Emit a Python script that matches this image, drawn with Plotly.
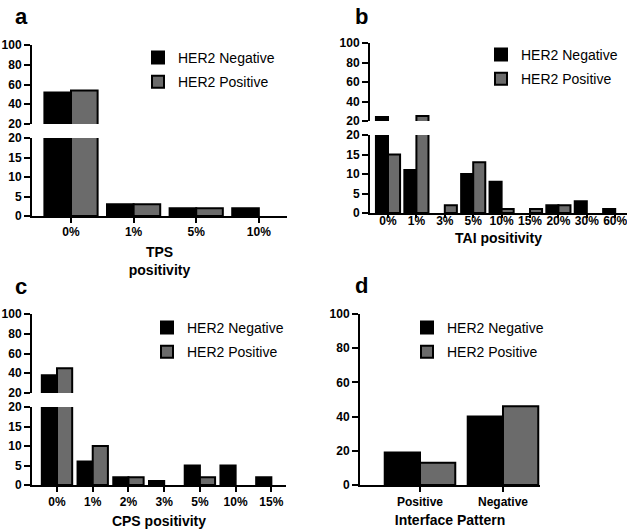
import plotly.graph_objects as go

W, H = 627, 529

# ---------------- data ----------------
tps_cats = ["0%", "1%", "5%", "10%"]
tps_neg = [52, 3, 2, 2]
tps_pos = [54, 3, 2, 0]

tai_cats = ["0%", "1%", "3%", "5%", "10%", "15%", "20%", "30%", "60%"]
tai_neg = [24, 11, 0, 10, 8, 0, 2, 3, 1]
tai_pos = [15, 25, 2, 13, 1, 1, 2, 0, 0]

cps_cats = ["0%", "1%", "2%", "3%", "5%", "10%", "15%"]
cps_neg = [38, 6, 2, 1, 5, 5, 2]
cps_pos = [45, 10, 2, 0, 2, 0, 0]

int_cats = ["Positive", "Negative"]
int_neg = [19, 40]
int_pos = [13, 46]

series_names = ["HER2 Negative", "HER2 Positive"]
lower_ticks = [0, 5, 10, 15, 20]
upper_ticks = [20, 40, 60, 80, 100]
full_ticks = [0, 20, 40, 60, 80, 100]

NEG_COLOR = "#000000"
POS_COLOR = "#6b6b6b"
FONT = "Liberation Sans, Arial, sans-serif"


def px_x(p):
    return p / W


def px_y(p):
    return 1 - p / H


fig = go.Figure()


def add_bars(cats, neg, pos, xa, ya, legend, show):
    for name, vals, col in ((series_names[0], neg, NEG_COLOR), (series_names[1], pos, POS_COLOR)):
        fig.add_trace(go.Bar(
            x=cats, y=[v if v != 0 else None for v in vals], name=name,
            marker=dict(color=col, line=dict(color="black", width=2)),
            xaxis=xa, yaxis=ya, legend=legend, showlegend=show,
            legendgroup=name + legend,
        ))


# panel a
add_bars(tps_cats, tps_neg, tps_pos, "x", "y", "legend", True)
add_bars(tps_cats, tps_neg, tps_pos, "x2", "y2", "legend", False)
# panel b
add_bars(tai_cats, tai_neg, tai_pos, "x3", "y3", "legend2", True)
add_bars(tai_cats, tai_neg, tai_pos, "x4", "y4", "legend2", False)
# panel c
add_bars(cps_cats, cps_neg, cps_pos, "x5", "y5", "legend3", True)
add_bars(cps_cats, cps_neg, cps_pos, "x6", "y6", "legend3", False)
# panel d
add_bars(int_cats, int_neg, int_pos, "x7", "y7", "legend4", True)

tickfont = dict(family=FONT, size=12, color="black", weight="bold")
titlefont = dict(family=FONT, size=14, color="black", weight="bold")


def xaxis(domain, rng, cats, anchor, visible=True, title=None, standoff=8, labshift=0, ticklen=5):
    d = dict(domain=domain, range=rng, type="category", categoryarray=cats, anchor=anchor,
             categoryorder="array", fixedrange=True, showgrid=False, zeroline=False,
             automargin=False)
    if visible:
        d.update(showline=True, linecolor="black", linewidth=2, ticks="outside",
                 ticklen=ticklen, tickwidth=2, tickcolor="black", tickfont=tickfont,
                 ticklabelstandoff=labshift)
        if title:
            d.update(title=dict(text=title, font=titlefont, standoff=standoff))
    else:
        d.update(visible=False)
    return d


def yaxis(domain, rng, ticks, anchor):
    return dict(domain=domain, range=rng, tickvals=ticks, anchor=anchor,
                showline=True, linecolor="black", linewidth=2, ticks="outside",
                ticklen=6, tickwidth=2, tickcolor="black", tickfont=tickfont,
                showgrid=False, zeroline=False, fixedrange=True, automargin=False)


a_x = [px_x(32), px_x(287)]
b_x = [px_x(370), px_x(627)]
c_x = [px_x(32), px_x(286)]
d_x = [px_x(360), px_x(540)]

layout = dict(
    width=W, height=H, margin=dict(l=0, r=0, t=0, b=0, autoexpand=False),
    plot_bgcolor="white", paper_bgcolor="white",
    barmode="group", bargap=0.15, bargroupgap=0.0,
    font=dict(family=FONT, color="black"),
    xaxis=xaxis(a_x, [-0.623, 3.45], tps_cats, "y", title="TPS<br>positivity", standoff=9, labshift=-1),
    xaxis2=xaxis(a_x, [-0.623, 3.45], tps_cats, "y2", visible=False),
    xaxis3=xaxis(b_x, [-0.634, 8.415], tai_cats, "y3", title="TAI positivity", standoff=6,
                 labshift=-7, ticklen=3),
    xaxis4=xaxis(b_x, [-0.634, 8.415], tai_cats, "y4", visible=False),
    xaxis5=xaxis(c_x, [-0.70, 6.41], cps_cats, "y5", title="CPS positivity", standoff=8, labshift=0),
    xaxis6=xaxis(c_x, [-0.70, 6.41], cps_cats, "y6", visible=False),
    xaxis7=xaxis(d_x, [-0.723, 1.446], int_cats, "y7", title="Interface Pattern", standoff=7, labshift=0),
    yaxis=yaxis([px_y(216), px_y(138)], [0, 20], lower_ticks, "x"),
    yaxis2=yaxis([px_y(124), px_y(45)], [20, 100], upper_ticks, "x2"),
    yaxis3=yaxis([px_y(213), px_y(135)], [0, 20], lower_ticks, "x3"),
    yaxis4=yaxis([px_y(121), px_y(43)], [20, 100], upper_ticks, "x4"),
    yaxis5=yaxis([px_y(485), px_y(407)], [0, 20], lower_ticks, "x5"),
    yaxis6=yaxis([px_y(393), px_y(314)], [20, 100], upper_ticks, "x6"),
    yaxis7=yaxis([px_y(485), px_y(314)], [0, 100], full_ticks, "x7"),
)

legfont = dict(family=FONT, size=14, color="black")


def legend(x, y):
    return dict(x=px_x(x), y=px_y(y), xanchor="left", yanchor="top", font=legfont,
                bgcolor="rgba(0,0,0,0)", borderwidth=0, tracegroupgap=3,
                traceorder="grouped", itemclick=False, itemdoubleclick=False)


layout["legend"] = legend(138, 42)
layout["legend2"] = legend(481, 39)
layout["legend3"] = legend(147, 312)
layout["legend4"] = legend(407, 312)

labfont = dict(family=FONT, size=22, color="black", weight="bold")
annotations = []
for txt, x, y in (("a", 21, 31), ("b", 361, 31), ("c", 21, 301), ("d", 361, 300)):
    annotations.append(dict(text=txt, x=px_x(x), y=px_y(y), xref="paper", yref="paper",
                            showarrow=False, font=labfont, xanchor="center", yanchor="bottom"))
layout["annotations"] = annotations

fig.update_layout(**layout)
# remove the default 8px page margin so the figure fills the window exactly
fig.write_html("out.html", config={"displayModeBar": False},
               post_script="document.body.style.margin='0px';")
